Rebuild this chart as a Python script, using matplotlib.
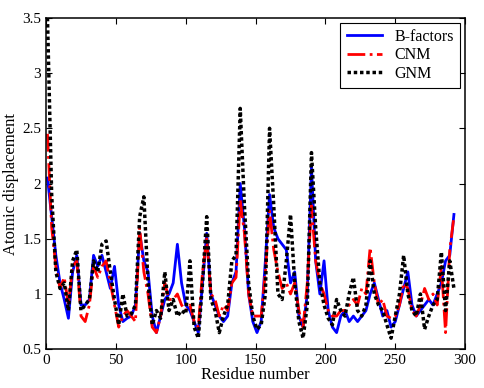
import numpy as np
import matplotlib
matplotlib.use("Agg")
import matplotlib.pyplot as plt

plt.rcParams['font.family'] = ['Liberation Serif', 'DejaVu Serif']

# residue numbers sampled every 3 residues
residue = np.arange(1, 293, 3)

bfactors = [2.05, 1.70, 1.35, 1.10, 0.95, 0.78, 1.20, 1.35, 0.90, 0.90,
            0.95, 1.35, 1.25, 1.35, 1.20, 1.05, 1.25, 0.90, 0.75, 0.78,
            0.80, 0.90, 1.55, 1.30, 1.20, 0.80, 0.65, 0.80, 0.95, 1.00,
            1.10, 1.45, 1.10, 0.90, 0.85, 0.75, 0.65, 1.10, 1.55, 1.00,
            0.90, 0.80, 0.75, 0.80, 1.10, 1.20, 2.00, 1.60, 1.00, 0.75,
            0.65, 0.75, 1.30, 1.90, 1.60, 1.50, 1.45, 1.40, 1.10, 1.20,
            0.80, 0.70, 1.00, 2.15, 1.30, 1.00, 1.30, 0.85, 0.70, 0.65,
            0.80, 0.85, 0.75, 0.80, 0.75, 0.80, 0.85, 1.00, 1.10, 0.95,
            0.80, 0.85, 0.70, 0.75, 0.90, 1.05, 1.20, 0.90, 0.80, 0.85,
            0.90, 0.95, 0.90, 1.00, 1.10, 1.30, 1.35, 1.72]

cnm = [2.45, 1.60, 1.25, 1.05, 1.15, 0.90, 1.25, 1.30, 0.80, 0.75,
       0.90, 1.25, 1.15, 1.25, 1.30, 1.10, 0.90, 0.70, 0.80, 0.85,
       0.80, 0.75, 1.60, 1.20, 1.00, 0.70, 0.65, 0.80, 1.10, 0.95,
       0.95, 1.00, 0.90, 0.85, 0.90, 0.75, 0.70, 1.20, 1.50, 1.00,
       0.95, 0.80, 0.90, 0.85, 1.10, 1.15, 1.85, 1.55, 1.00, 0.80,
       0.80, 0.80, 1.20, 1.75, 1.40, 1.20, 1.05, 1.10, 1.00, 1.10,
       0.85, 0.70, 1.10, 1.80, 1.30, 1.10, 1.00, 0.85, 0.80, 0.80,
       0.85, 0.85, 0.90, 0.95, 0.90, 1.05, 1.00, 1.42, 1.10, 0.90,
       0.95, 0.80, 0.78, 0.80, 0.90, 1.10, 1.05, 0.85, 0.80, 0.90,
       1.05, 0.95, 1.00, 0.90, 1.25, 0.65, 1.40, 1.70]

gnm = [3.50, 1.90, 1.20, 1.05, 1.10, 0.85, 1.30, 1.40, 0.85, 0.90,
       0.95, 1.30, 1.20, 1.45, 1.48, 1.20, 0.95, 0.72, 1.00, 0.80,
       0.82, 0.90, 1.70, 1.88, 1.10, 0.72, 0.85, 0.78, 1.20, 0.85,
       0.95, 0.80, 0.85, 0.82, 1.30, 0.70, 0.60, 1.10, 1.70, 0.95,
       0.85, 0.65, 0.80, 0.90, 1.30, 1.35, 2.68, 1.80, 1.10, 0.80,
       0.68, 0.72, 1.00, 2.50, 1.80, 1.00, 0.95, 1.30, 1.72, 1.10,
       0.75, 0.60, 0.90, 2.28, 1.60, 1.10, 0.90, 0.78, 0.72, 0.95,
       0.85, 0.80, 1.00, 1.15, 0.85, 0.80, 0.90, 1.30, 1.00, 0.90,
       0.85, 0.72, 0.60, 0.80, 1.00, 1.35, 1.00, 0.85, 0.80, 1.00,
       0.68, 0.80, 0.90, 0.95, 1.38, 0.85, 1.30, 1.05]

fig = plt.figure(figsize=(4.85, 3.88), dpi=100)
ax = fig.add_axes([0.095, 0.10, 0.864, 0.854])

ax.plot(residue, bfactors, color='#0000ff', lw=2, label='B-factors')
ax.plot(residue, cnm, color='#ff0000', lw=2, ls='-.', label='CNM')
ax.plot(residue, gnm, color='black', lw=2.5, ls=(0, (1, 0.8)), label='GNM')

ax.set_xlim(0, 300)
ax.set_ylim(0.5, 3.5)
ax.set_xticks([0, 50, 100, 150, 200, 250, 300])
ax.set_yticks([0.5, 1, 1.5, 2, 2.5, 3, 3.5])
ax.set_yticklabels(['0.5', '1', '1.5', '2', '2.5', '3', '3.5'])
ax.tick_params(direction='in', top=True, right=True, labelsize=11, length=4)
for s in ax.spines.values():
    s.set_linewidth(1.1)
ax.set_xlabel('Residue number', fontsize=12, labelpad=0)
ax.set_ylabel('Atomic displacement', fontsize=12, labelpad=2)

leg = ax.legend(loc='upper right', fontsize=11.5, fancybox=False,
                framealpha=1, edgecolor='black', handlelength=2.2,
                borderaxespad=0.3, labelspacing=0.15)
leg.get_frame().set_linewidth(0.8)

fig.savefig('out.png', dpi=100)
